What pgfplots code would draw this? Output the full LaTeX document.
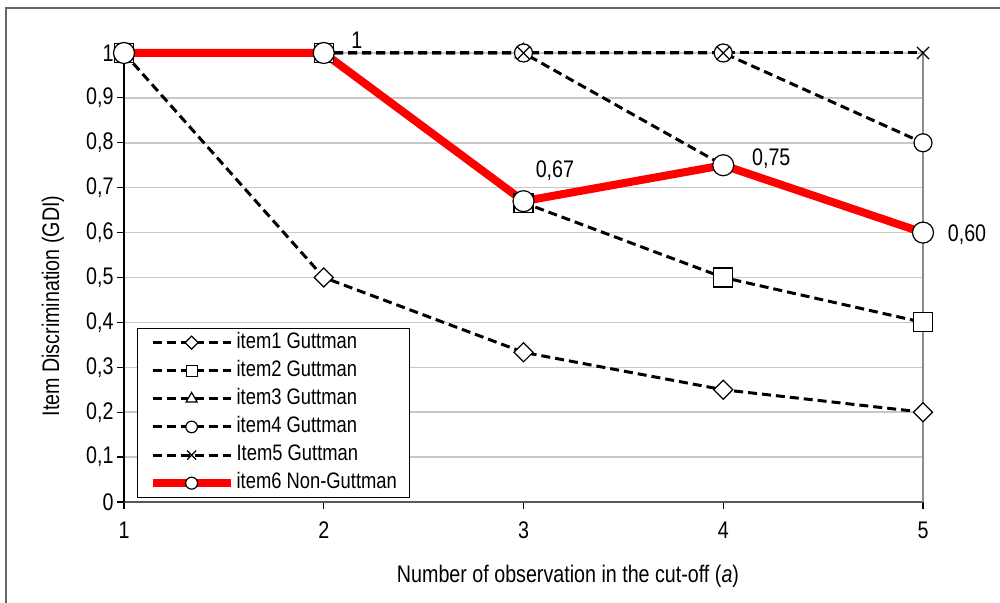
\documentclass[border=0pt]{standalone}
\usepackage{fontspec}
\setmainfont{Liberation Sans}[FakeStretch=0.82]
\usepackage{pgfplots}
\pgfplotsset{compat=1.18}
\definecolor{gridgray}{HTML}{C8C8C8}
\definecolor{rightgray}{HTML}{8C8C8C}
\definecolor{botgray}{HTML}{595959}
\begin{document}
\begin{tikzpicture}
\path[use as bounding box] (-62pt,-50.5pt) rectangle (438pt,251pt);
\draw[black!60, line width=0.6pt] (-59pt,-60pt) -- (-59pt,247pt) -- (445pt,247pt);
\begin{axis}[
  at={(0,0)}, anchor=south west,
  scale only axis, width=399.5pt, height=224.5pt,
  xmin=1, xmax=5, ymin=0, ymax=1,
  clip=false,
  font=\fontsize{12}{14}\selectfont,
  axis x line*=bottom, axis y line*=left,
  x axis line style={line width=1.3pt, color=botgray, -},
  y axis line style={line width=0.8pt, black, -},
  xtick={1,2,3,4,5},
  ytick={0,0.1,0.2,0.3,0.4,0.5,0.6,0.7,0.8,0.9,1},
  tick align=outside, major tick length=3.5pt,
  tick style={black, line width=0.6pt},
  ymajorgrids, grid style={gridgray, line width=0.75pt},
  /pgf/number format/assume math mode=true,
  yticklabel style={/pgf/number format/use comma, /pgf/number format/fixed, inner sep=1.5pt},
  xticklabel style={yshift=-3pt},
  xlabel={Number of observation in the cut-off (\textit{a})},
  ylabel={Item Discrimination (GDI)},
  every axis x label/.style={at={(axis description cs:0.5557,-0.1648)}, anchor=center},
  every axis y label/.style={at={(axis description cs:-0.0889,0.4365)}, anchor=center, rotate=90},
  legend style={at={(axis description cs:0.0163,0.0089)}, anchor=south west,
    draw=black, line width=0.6pt, fill=white, inner xsep=5.5pt, inner ysep=0.5pt,
    row sep=0.8pt, font=\fontsize{11.2}{13}\selectfont,
    nodes={inner sep=1pt, text height=8.5pt, text depth=2.75pt}},
  legend cell align=left,
  legend image code/.code={\draw[mark repeat=2,mark phase=2,#1] plot coordinates {(0pt,0pt) (19.5pt,0pt) (39pt,0pt)};},
  dline/.style={black, line width=1.5pt, dash pattern=on 4.5pt off 2.5pt},
]
\draw[rightgray, line width=1.3pt] (axis cs:5,0) -- (axis cs:5,1);

\addplot[dline, mark=square*, mark size=3.36pt,
  mark options={solid, fill=white, draw=black, line width=0.6pt, rotate=45},
  legend image post style={mark size=2.3pt}]
  coordinates {(1,1) (2,0.5) (3,0.3333) (4,0.25) (5,0.2)};
\addlegendentry{item1 Guttman}

\addplot[dline, mark=square*, mark size=4.75pt,
  mark options={solid, fill=white, draw=black, line width=0.6pt},
  legend image post style={mark size=2.75pt}]
  coordinates {(1,1) (2,1) (3,0.6667) (4,0.5) (5,0.4)};
\addlegendentry{item2 Guttman}

\addplot[dline, mark=triangle*, mark size=4.8pt,
  mark options={solid, fill=white, draw=black, line width=0.6pt},
  legend image post style={mark size=3.2pt}]
  coordinates {(1,1) (2,1) (3,1) (4,0.75) (5,0.6)};
\addlegendentry{item3 Guttman}

\addplot[dline, mark=*, mark size=4.5pt,
  mark options={solid, fill=white, draw=black, line width=0.6pt},
  legend image post style={mark size=2.9pt}]
  coordinates {(1,1) (2,1) (3,1) (4,1) (5,0.8)};
\addlegendentry{item4 Guttman}

\addplot[dline, mark=x, mark size=4.3pt,
  mark options={solid, draw=black, line width=0.6pt},
  legend image post style={mark size=3.2pt}]
  coordinates {(1,1) (2,1) (3,1) (4,1) (5,1)};
\addlegendentry{Item5 Guttman}

\addplot[red, line width=4pt, mark=*, mark size=5.25pt,
  mark options={fill=white, draw=black, line width=0.6pt},
  legend image post style={mark size=3pt}]
  coordinates {(1,1) (2,1) (3,0.67) (4,0.75) (5,0.6)};
\addlegendentry{item6 Non-Guttman}

\node[anchor=center, xshift=16.6pt, yshift=6.5pt] at (axis cs:2,1) {1};
\node[anchor=center, xshift=15.7pt, yshift=15.2pt] at (axis cs:3,0.67) {0,67};
\node[anchor=center, xshift=24pt, yshift=3.4pt] at (axis cs:4,0.75) {0,75};
\node[anchor=center, xshift=22pt, yshift=-1.2pt] at (axis cs:5,0.6) {0,60};
\end{axis}
\end{tikzpicture}
\end{document}
